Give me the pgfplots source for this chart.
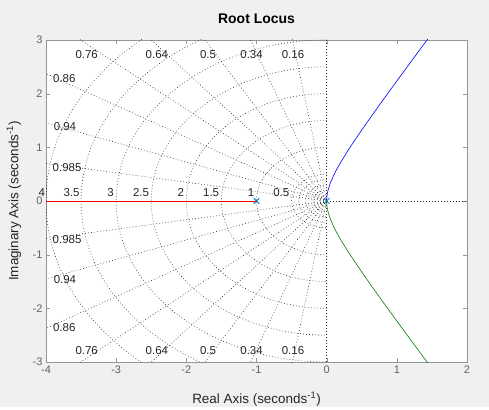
\documentclass[border=0pt]{standalone}
\usepackage{pgfplots}
\pgfplotsset{compat=1.18}
\usepackage{fontspec}
\setmainfont{Liberation Sans}
\definecolor{figbg}{RGB}{240,240,240}
\definecolor{mlblue}{rgb}{0,0.447,0.741}
\definecolor{axgray}{RGB}{38,38,38}
\definecolor{framegray}{RGB}{150,150,150}
\definecolor{mlgreen}{rgb}{0,0.5,0}
\tikzset{griddot/.style={line width=0.6bp, black!85, dash pattern=on 0.7bp off 2.3bp}}
\tikzset{glab/.style={font=\fontsize{11.5}{13}\selectfont, text=axgray, inner sep=0pt}}
\begin{document}
\begin{tikzpicture}[x=1bp,y=1bp]
\fill[figbg] (0,0) rectangle (489,407);
\begin{axis}[
  at={(46bp,45bp)}, anchor=south west,
  scale only axis, width=421bp, height=322bp,
  xmin=-4, xmax=2, ymin=-3, ymax=3,
  xtick={-4,-3,-2,-1,0,1,2}, ytick={-3,-2,-1,0,1,2,3},
  tick align=inside,
  axis line style={framegray},
  tick style={framegray},
  major tick length=4bp,
  ticklabel style={font=\fontsize{11}{13}\selectfont, text=black!62},
  /pgf/number format/assume math mode=true,
  xlabel={Real Axis (seconds\textsuperscript{-1})},
  ylabel={Imaginary Axis (seconds\textsuperscript{-1})},
  label style={font=\fontsize{13.5}{15}\selectfont, text=axgray},
  xlabel style={at={(axis description cs:0.5,-0.130)}, anchor=base},
  ylabel style={at={(axis description cs:-0.076,0.5)}, anchor=center},
  title={\textbf{Root Locus}},
  title style={font=\fontsize{14}{16}\selectfont, text=black, at={(axis description cs:0.5,1)}, anchor=base, yshift=11bp},
  clip mode=individual,
  axis background/.style={fill=white},
]
% damping grid lines
\addplot[griddot] coordinates {(0,0) (-0.8,4.9356)};
\addplot[griddot] coordinates {(0,0) (-1.7,4.7021)};
\addplot[griddot] coordinates {(0,0) (-2.5,4.3301)};
\addplot[griddot] coordinates {(0,0) (-3.2,3.8419)};
\addplot[griddot] coordinates {(0,0) (-3.8,3.2496)};
\addplot[griddot] coordinates {(0,0) (-4.3,2.5515)};
\addplot[griddot] coordinates {(0,0) (-4.7,1.7059)};
\addplot[griddot] coordinates {(0,0) (-4.925,0.8628)};
\addplot[griddot] coordinates {(0,0) (-0.8,-4.9356)};
\addplot[griddot] coordinates {(0,0) (-1.7,-4.7021)};
\addplot[griddot] coordinates {(0,0) (-2.5,-4.3301)};
\addplot[griddot] coordinates {(0,0) (-3.2,-3.8419)};
\addplot[griddot] coordinates {(0,0) (-3.8,-3.2496)};
\addplot[griddot] coordinates {(0,0) (-4.3,-2.5515)};
\addplot[griddot] coordinates {(0,0) (-4.7,-1.7059)};
\addplot[griddot] coordinates {(0,0) (-4.925,-0.8628)};
\addplot[griddot] coordinates {(0,-3) (0,3)};
\addplot[griddot] coordinates {(0,0) (2,0)};
% natural frequency arcs
\begin{scope}
\clip (rel axis cs:0,0) rectangle (rel axis cs:1,1);
\draw[griddot] (axis cs:0,0.1) arc[start angle=90,end angle=270,radius=0.1];
\draw[griddot] (axis cs:0,0.2) arc[start angle=90,end angle=270,radius=0.2];
\draw[griddot] (axis cs:0,0.3) arc[start angle=90,end angle=270,radius=0.3];
\draw[griddot] (axis cs:0,0.4) arc[start angle=90,end angle=270,radius=0.4];
\draw[griddot] (axis cs:0,0.5) arc[start angle=90,end angle=270,radius=0.5];
\draw[griddot] (axis cs:0,1) arc[start angle=90,end angle=270,radius=1];
\draw[griddot] (axis cs:0,1.5) arc[start angle=90,end angle=270,radius=1.5];
\draw[griddot] (axis cs:0,2) arc[start angle=90,end angle=270,radius=2];
\draw[griddot] (axis cs:0,2.5) arc[start angle=90,end angle=270,radius=2.5];
\draw[griddot] (axis cs:0,3) arc[start angle=90,end angle=270,radius=3];
\draw[griddot] (axis cs:0,3.5) arc[start angle=90,end angle=270,radius=3.5];
\draw[griddot] (axis cs:0,4) arc[start angle=90,end angle=270,radius=4];
\end{scope}
% root locus branches
\addplot[red, line width=0.5bp] coordinates {(-1,0) (-4.5,0)};
\addplot[blue, line width=0.6bp] coordinates {
(0,0) (0.001,0.04476) (0.005,0.10037) (0.01,0.14248) (0.02,0.20298) (0.05,0.32787)
(0.1,0.47958) (0.15,0.60622) (0.2,0.72111) (0.3,0.93274) (0.4,1.13137) (0.5,1.32288)
(0.6,1.50997) (0.7,1.69411) (0.8,1.87617) (0.9,2.05670) (1.0,2.23607) (1.1,2.41454)
(1.2,2.59230) (1.3,2.76948) (1.4,2.94618) (1.45,3.03439)};
\addplot[mlgreen, line width=0.6bp] coordinates {
(0,0) (0.001,-0.04476) (0.005,-0.10037) (0.01,-0.14248) (0.02,-0.20298) (0.05,-0.32787)
(0.1,-0.47958) (0.15,-0.60622) (0.2,-0.72111) (0.3,-0.93274) (0.4,-1.13137) (0.5,-1.32288)
(0.6,-1.50997) (0.7,-1.69411) (0.8,-1.87617) (0.9,-2.05670) (1.0,-2.23607) (1.1,-2.41454)
(1.2,-2.59230) (1.3,-2.76948) (1.4,-2.94618) (1.45,-3.03439)};
\addplot[mlblue, only marks, mark=x, mark size=4bp, line width=0.8bp] coordinates {(-1,0) (0,0)};
% damping labels
\node[glab] at (axis cs:-0.48,2.72) {0.16};
\node[glab] at (axis cs:-1.07,2.72) {0.34};
\node[glab] at (axis cs:-1.69,2.72) {0.5};
\node[glab] at (axis cs:-2.42,2.72) {0.64};
\node[glab] at (axis cs:-3.42,2.72) {0.76};
\node[glab] at (axis cs:-3.74,2.29) {0.86};
\node[glab] at (axis cs:-3.73,1.38) {0.94};
\node[glab] at (axis cs:-3.70,0.62) {0.985};
\node[glab] at (axis cs:-0.48,-2.79) {0.16};
\node[glab] at (axis cs:-1.07,-2.79) {0.34};
\node[glab] at (axis cs:-1.69,-2.79) {0.5};
\node[glab] at (axis cs:-2.42,-2.79) {0.64};
\node[glab] at (axis cs:-3.42,-2.79) {0.76};
\node[glab] at (axis cs:-3.74,-2.35) {0.86};
\node[glab] at (axis cs:-3.73,-1.47) {0.94};
\node[glab] at (axis cs:-3.70,-0.71) {0.985};
% frequency labels
\node[glab, anchor=base east] at (axis cs:-4.01,0.075) {4};
\node[glab, anchor=base east] at (axis cs:-3.52,0.075) {3.5};
\node[glab, anchor=base east] at (axis cs:-3.03,0.075) {3};
\node[glab, anchor=base east] at (axis cs:-2.53,0.075) {2.5};
\node[glab, anchor=base east] at (axis cs:-2.03,0.075) {2};
\node[glab, anchor=base east] at (axis cs:-1.53,0.075) {1.5};
\node[glab, anchor=base east] at (axis cs:-1.03,0.075) {1};
\node[glab, anchor=base east] at (axis cs:-0.53,0.075) {0.5};
\end{axis}
\end{tikzpicture}
\end{document}
